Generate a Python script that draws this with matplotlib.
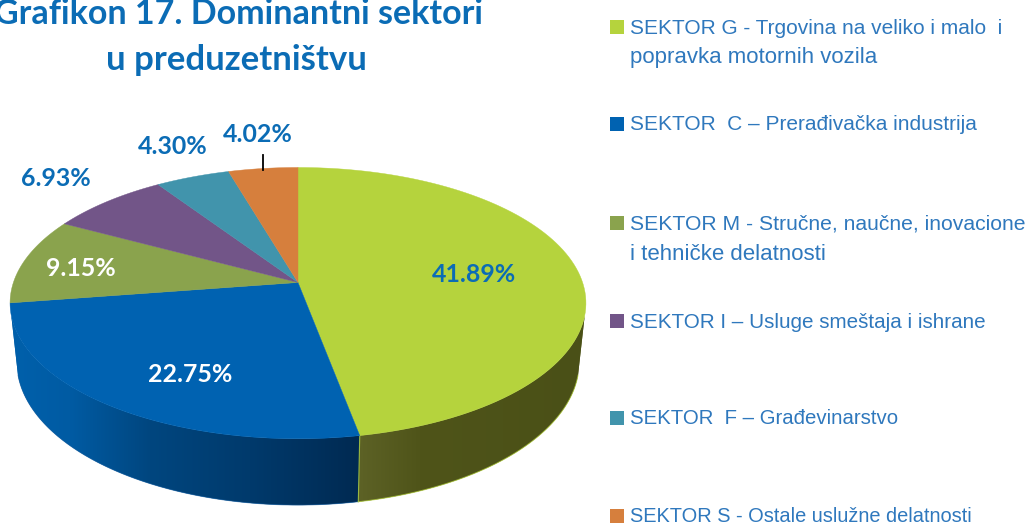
import numpy as np
import matplotlib
matplotlib.use('Agg')
import matplotlib.pyplot as plt
from matplotlib.patches import Polygon, Rectangle

# values as printed (they do not add up to 100, the pie normalises them)
sectors = ['G', 'C', 'M', 'I', 'F', 'S']
values = [41.89, 22.75, 9.15, 6.93, 4.30, 4.02]
labels = ['41.89%', '22.75%', '9.15%', '6.93%', '4.30%', '4.02%']
colors = ['#b5d33d', '#0062b1', '#8aa34d', '#725588', '#4194ac', '#d67f3d']
legend_lines = [
    ['SEKTOR G - Trgovina na veliko i malo  i', 'popravka motornih vozila'],
    ['SEKTOR  C – Prerađivačka industrija'],
    ['SEKTOR M - Stručne, naučne, inovacione', 'i tehničke delatnosti'],
    ['SEKTOR I – Usluge smeštaja i ishrane'],
    ['SEKTOR  F – Građevinarstvo'],
    ['SEKTOR S - Ostale uslužne delatnosti'],
]
legend_sizes = [[15.0, 16.0], [15.0], [15.2, 16.0], [14.9], [14.7], [14.4]]
title_lines = ['Grafikon 17. Dominantni sektori', 'u preduzetništvu']

TXT = '#2f78bd'
TITLE = '#0b6cb5'

# perspective of the disc: top face and bottom face
K = 0.152
CX = 298
TOP = dict(R=284.6, H=132.5, cy=282.5)
BOT = dict(R=278.0, H=140.0, cy=340.0)


def rim(t, face):
    # t in degrees, clockwise from 12 o'clock
    a = np.radians(t)
    u, v = np.sin(a), -np.cos(a)
    d = 1 - K * v
    return CX + face['R'] * u / d, face['cy'] + face['H'] * v / d


def wall(t0, t1, stops, ax):
    # one piece of the side wall, shaded left to right
    tt = np.linspace(t0, t1, 150)
    xa, ya = rim(tt, TOP)
    xb, yb = rim(tt[::-1], BOT)
    outline = list(zip(xa, ya)) + list(zip(xb, yb))
    poly = Polygon(outline, closed=True, fc=stops[0][1], ec='none', zorder=2)
    ax.add_patch(poly)
    xs = np.arange(0, 1027)
    pos = [s[0] for s in stops]
    rgb = np.array([matplotlib.colors.to_rgb(s[1]) for s in stops])
    grad = np.stack([np.interp(xs, pos, rgb[:, i]) for i in range(3)], axis=1)[None, :, :]
    im = ax.imshow(grad, extent=[0, 1027, 527, 0], aspect='auto', zorder=2.1,
                   interpolation='bilinear')
    im.set_clip_path(poly)
    return xb, yb


side_c = [(12, '#0060ab'), (70, '#005ba3'), (150, '#00467f'), (250, '#003a6c'), (358, '#002a52')]
side_g = [(358, '#5d6226'), (420, '#4f5419'), (585, '#4a5017')]

fig = plt.figure(figsize=(10.27, 5.27), dpi=100)
ax = fig.add_axes([0, 0, 1, 1])

angles = np.concatenate([[0], np.cumsum(values)]) / np.sum(values) * 360

# side wall, only the part seen from the front
gx, gy = wall(104, angles[1], side_g, ax)
cx, cy = wall(angles[1], 256, side_c, ax)

# soft edges along the bottom, light one on the green part and the seam
ax.plot(gx, gy, color='#b5d33d', lw=0.7, alpha=0.7, zorder=3)
ax.plot(cx, cy, color='#1d5f9e', lw=0.6, alpha=0.6, zorder=3)
sx = [rim(angles[1], TOP)[0], rim(angles[1], BOT)[0]]
sy = [rim(angles[1], TOP)[1], rim(angles[1], BOT)[1]]
ax.plot(sx, sy, color='#b5d33d', lw=0.8, alpha=0.8, zorder=3)

# top face
for i in range(len(values)):
    tt = np.linspace(angles[i], angles[i + 1], 100)
    px, py = rim(tt, TOP)
    pts = [(CX, TOP['cy'])] + list(zip(px, py))
    ax.add_patch(Polygon(pts, closed=True, fc=colors[i], ec=colors[i], lw=0.3, zorder=4))

# data labels
lab_pos = [(474, 275), (190, 375), (81, 268), (56, 179), (173, 146), (258, 134)]
lab_col = [TITLE, 'white', 'white', TITLE, TITLE, TITLE]
for s, (x, y), c in zip(labels, lab_pos, lab_col):
    ax.text(x, y, s, color=c, fontsize=17.9, fontweight='bold', family='Lato',
            ha='center', va='center', zorder=5)
ax.plot([263, 263], [155, 170], color='black', lw=1.3, zorder=5)

# title
ax.text(238.5, 14, title_lines[0], color=TITLE, fontsize=24.5, fontweight='bold',
        family='Lato', ha='center', va='center')
ax.text(236, 60, title_lines[1], color=TITLE, fontsize=25.0, fontweight='bold',
        family='Lato', ha='center', va='center')

# legend
box_y = [27, 124, 223, 321, 418, 516]
for i, lines in enumerate(legend_lines):
    ax.add_patch(Rectangle((610, box_y[i] - 7), 14, 14, fc=colors[i], ec='none'))
    for j, line in enumerate(lines):
        ax.text(630, box_y[i] + 1 + j * 30, line, color=TXT, fontsize=legend_sizes[i][j],
                family='Liberation Sans', ha='left', va='center')

ax.set_xlim(0, 1027)
ax.set_ylim(527, 0)
ax.axis('off')

fig.savefig('out.png', dpi=100)
